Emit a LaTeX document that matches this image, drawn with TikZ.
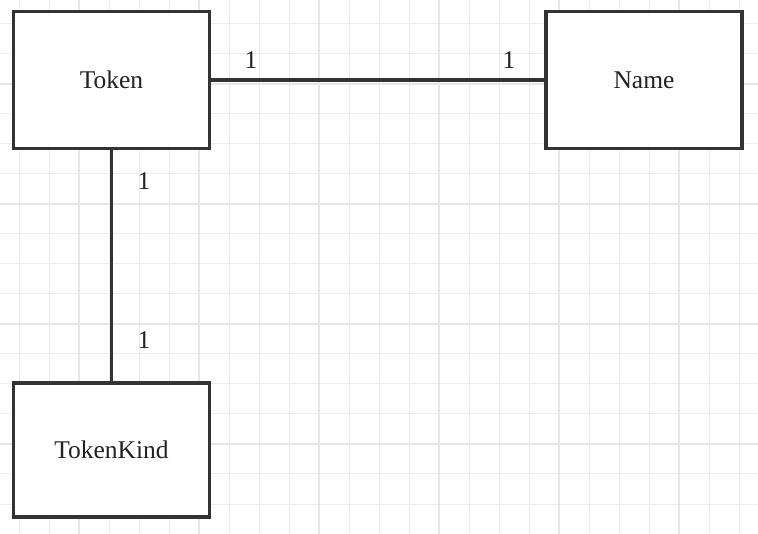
\documentclass[tikz,border=0pt]{standalone}
\usepackage{fontspec}
\setmainfont{Liberation Serif}
\definecolor{dk}{HTML}{333333}
\definecolor{txt}{HTML}{222222}
\definecolor{gminor}{HTML}{ECECEC}
\definecolor{gmajor}{HTML}{E6E6E6}
\begin{document}
\begin{tikzpicture}[x=1pt,y=-1pt,
  box/.style={draw=dk, line width=3.5pt, fill=white, minimum width=196pt, minimum height=137pt, inner sep=0pt, font=\fontsize{25.5}{30}\selectfont, text=txt},
  conn/.style={draw=dk, line width=3.5pt},
  lab/.style={font=\fontsize{25.5}{30}\selectfont, text=txt, inner sep=0pt},
  minorgrid/.style={draw=gminor, line width=1pt},
  majorgrid/.style={draw=gmajor, line width=1.3pt}]
\useasboundingbox (0,0) rectangle (758,534);
\fill[white] (0,0) rectangle (758,534);
\foreach \x in {19,49,...,739} \draw[minorgrid] (\x,0) -- (\x,534);
\foreach \y in {24,54,...,534} \draw[minorgrid] (0,\y) -- (758,\y);
\foreach \x in {79,199,...,739} \draw[majorgrid] (\x,0) -- (\x,534);
\foreach \y in {84,204,...,534} \draw[majorgrid] (0,\y) -- (758,\y);
\node[box] (token) at (111.5,80) {Token};
\node[box] (name) at (644,80) {Name};
\node[box, minimum height=134pt] (kind) at (111.5,450) {TokenKind};
\draw[conn] (token.east) -- (name.west);
\draw[conn] (token.south) -- (kind.north);
\node[lab] (l1) at (251,60) {1};
\node[lab] (l2) at (509,60) {1};
\node[lab] (l3) at (144,181) {1};
\node[lab] (l4) at (144,340) {1};
\end{tikzpicture}
\end{document}
